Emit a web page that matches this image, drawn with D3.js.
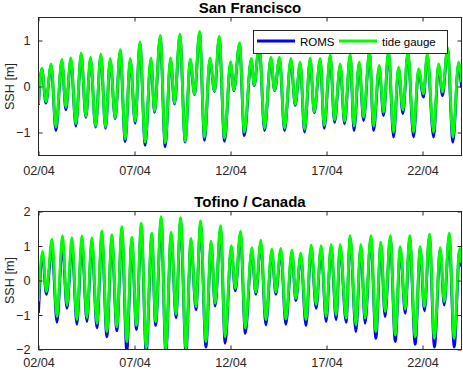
<!DOCTYPE html>
<html lang="en">
<head>
<meta charset="UTF-8">
<title>SSH: ROMS vs tide gauge</title>
<style>
  body { margin: 0; background: #fff; }
  svg { display: block; font-family: "Liberation Sans", Arial, sans-serif; }
  .axis text { font-size: 12.7px; fill: #262626; }
  .axis line { stroke: #262626; }
  .axis .domain { display: none; }
  .frame { fill: none; stroke: #262626; stroke-width: 1; }
  .title { font-size: 15px; font-weight: bold; fill: #000; }
  .ylab { font-size: 12.7px; fill: #262626; }
  .roms { fill: none; stroke: #0000ff; stroke-width: 2.8; }
  .gauge { fill: none; stroke: #00ff00; stroke-width: 2.8; }
  .legend text { font-size: 11.5px; fill: #000; }
</style>
</head>
<body>
<script src="https://cdn.jsdelivr.net/npm/d3@7"></script>
<script>

var width = 463, height = 370;
var left = 38.5, right = 461.5;

// days since 02/04 00:00
var lastDay = 22.03;
var tickDays = [0, 5, 10, 15, 20];
var tickLabels = ["02/04", "07/04", "12/04", "17/04", "22/04"];

// San Francisco: high/low waters
var sfTime = [0, 0.175, 0.384, 0.661, 0.905, 1.217, 1.425, 1.686, 1.946, 2.224,
  2.467, 2.710, 2.970, 3.248, 3.491, 3.734, 3.995, 4.255, 4.516, 4.776,
  5.036, 5.28, 5.557, 5.853, 6.043, 6.339, 6.599, 6.877, 7.085, 7.363,
  7.641, 7.901, 8.127, 8.387, 8.648, 8.925, 9.168, 9.411, 9.689, 10.002,
  10.175, 10.470, 10.72, 11.078, 11.234, 11.495, 11.772, 12.103, 12.293, 12.554,
  12.814, 13.144, 13.370, 13.630, 13.856, 14.151, 14.359, 14.672, 14.880, 15.193,
  15.418, 15.714, 15.939, 16.234, 16.43, 16.703, 16.929, 17.241, 17.450, 17.745,
  17.970, 18.231, 18.491, 18.752, 18.978, 19.238, 19.533, 19.793, 20.054, 20.245,
  20.575, 20.835, 21.043, 21.304, 21.582, 21.877, 22.03];
var sfGauge = [-0.38, 0.40, -0.33, 0.49, -0.88, 0.59, -0.45, 0.62, -0.81, 0.73,
  -0.65, 0.64, -0.86, 0.71, -0.88, 0.61, -0.68, 0.80, -1.14, 0.61,
  -0.76, 0.97, -1.21, 0.62, -0.54, 1.11, -1.23, 0.62, -0.36, 1.14,
  -1.19, 0.60, -0.17, 1.20, -1.10, 0.62, -0.10, 1.09, -1.12, 0.54,
  -0.08, 0.95, -0.99, 0.61, 0.03, 0.95, -0.91, 0.64, -0.08, 0.64,
  -0.91, 0.61, -0.39, 0.53, -0.93, 0.62, -0.55, 0.61, -0.85, 0.69,
  -0.73, 0.49, -0.76, 0.71, -0.86, 0.53, -0.67, 0.78, -0.86, 0.46,
  -0.56, 0.78, -0.99, 0.42, -0.51, 0.76, -0.99, 0.38, -0.16, 0.71,
  -0.99, 0.49, -0.12, 0.85, -1.10, 0.53, 0.09];
var sfRoms = [-0.40, 0.38, -0.36, 0.46, -0.96, 0.55, -0.51, 0.58, -0.86, 0.69,
  -0.67, 0.60, -0.88, 0.67, -0.91, 0.57, -0.70, 0.76, -1.20, 0.57,
  -0.80, 0.93, -1.28, 0.58, -0.56, 1.07, -1.31, 0.58, -0.38, 1.10,
  -1.21, 0.56, -0.18, 1.16, -1.17, 0.58, -0.11, 1.05, -1.19, 0.50,
  -0.09, 0.91, -1.07, 0.57, 0.02, 0.91, -0.96, 0.60, -0.09, 0.60,
  -0.96, 0.57, -0.41, 0.49, -0.99, 0.58, -0.57, 0.57, -0.91, 0.65,
  -0.78, 0.45, -0.81, 0.67, -0.96, 0.49, -0.74, 0.74, -0.96, 0.40,
  -0.63, 0.74, -1.10, 0.38, -0.59, 0.72, -1.10, 0.34, -0.23, 0.67,
  -1.10, 0.45, -0.20, 0.81, -1.21, 0.49, -0.02];

// Tofino
var tfTime = [0, 0.21, 0.41, 0.70, 0.96, 1.25, 1.48, 1.74, 2.00, 2.26,
  2.52, 2.78, 3.04, 3.30, 3.56, 3.82, 4.08, 4.34, 4.60, 4.86,
  5.10, 5.35, 5.61, 5.90, 6.10, 6.39, 6.63, 6.91, 7.16, 7.40,
  7.68, 7.94, 8.20, 8.44, 8.72, 8.99, 9.20, 9.48, 9.72, 10.04,
  10.25, 10.52, 10.77, 11.11, 11.32, 11.58, 11.84, 12.15, 12.36, 12.62,
  12.88, 13.20, 13.40, 13.66, 13.93, 14.20, 14.46, 14.72, 14.98, 15.24,
  15.50, 15.71, 16.02, 16.23, 16.53, 16.79, 17.01, 17.31, 17.57, 17.83,
  18.05, 18.32, 18.58, 18.84, 19.10, 19.33, 19.62, 19.88, 20.10, 20.36,
  20.62, 20.92, 21.13, 21.39, 21.65, 21.93, 22.03];
var tfGauge = [-0.61, 0.84, -0.32, 1.20, -1.05, 1.30, -0.71, 1.24, -1.14, 1.30,
  -1.08, 1.24, -1.24, 1.43, -1.48, 1.32, -1.34, 1.56, -1.77, 1.25,
  -1.30, 1.66, -1.95, 1.37, -1.19, 1.85, -2.00, 1.40, -0.98, 1.82,
  -1.98, 1.22, -0.76, 1.72, -1.77, 1.14, -0.66, 1.59, -1.63, 1.01,
  -0.23, 1.42, -1.38, 0.95, -0.34, 1.17, -1.14, 0.91, -0.34, 0.93,
  -1.12, 0.88, -0.52, 0.79, -1.14, 1.03, -0.70, 1.01, -1.05, 1.05,
  -1.00, 1.05, -1.09, 1.30, -1.29, 1.05, -1.09, 1.30, -1.48, 1.11,
  -0.90, 1.30, -1.58, 0.98, -0.83, 1.30, -1.63, 0.98, -0.76, 1.34,
  -1.68, 0.95, -0.61, 1.37, -1.68, 0.93, 0.50];
var tfRoms = [-0.95, 0.70, -0.40, 0.95, -1.21, 1.05, -0.81, 1.02, -1.27, 1.10,
  -1.19, 1.08, -1.37, 1.28, -1.63, 1.18, -1.46, 1.42, -2.05, 1.12,
  -1.42, 1.54, -2.10, 1.25, -1.30, 1.74, -2.12, 1.30, -1.08, 1.72,
  -2.12, 1.12, -0.85, 1.62, -1.93, 1.05, -0.74, 1.50, -1.82, 0.92,
  -0.30, 1.33, -1.53, 0.86, -0.40, 1.08, -1.29, 0.82, -0.40, 0.85,
  -1.27, 0.80, -0.58, 0.71, -1.31, 0.95, -0.81, 0.93, -1.19, 0.97,
  -1.14, 0.97, -1.21, 1.22, -1.48, 0.97, -1.24, 1.22, -1.68, 1.03,
  -1.05, 1.22, -1.77, 0.90, -0.95, 1.22, -1.85, 0.90, -0.88, 1.26,
  -1.93, 0.87, -0.71, 1.29, -1.93, 0.85, 0.40];

var svg = d3.select("body").append("svg")
    .attr("width", width)
    .attr("height", height);

var x = d3.scaleLinear().domain([0, lastDay]).range([left, right]);

function panel(id, title, top, bottom, yDomain, yTicks, time, gauge, roms, labelPad) {
  var y = d3.scaleLinear().domain(yDomain).range([bottom, top]);
  var g = svg.append("g");

  g.append("clipPath").attr("id", id)
    .append("rect")
      .attr("x", left).attr("y", top)
      .attr("width", right - left).attr("height", bottom - top);

  var line = d3.line()
      .x(function(d, i){ return x(time[i]); })
      .y(function(d){ return y(d); })
      .curve(d3.curveMonotoneX);

  var lines = g.append("g").attr("clip-path", "url(#" + id + ")");
  lines.append("path").datum(roms).attr("class", "roms").attr("d", line);
  lines.append("path").datum(gauge).attr("class", "gauge").attr("d", line);

  // ticks point inwards on all four sides
  g.append("g").attr("class", "axis")
      .attr("transform", "translate(0," + bottom + ")")
      .call(d3.axisBottom(x).tickValues(tickDays)
        .tickFormat(function(d, i){ return tickLabels[i]; })
        .tickSizeInner(-4).tickSizeOuter(0).tickPadding(labelPad));
  g.append("g").attr("class", "axis")
      .attr("transform", "translate(0," + top + ")")
      .call(d3.axisTop(x).tickValues(tickDays).tickFormat("")
        .tickSizeInner(-4).tickSizeOuter(0));
  g.append("g").attr("class", "axis")
      .attr("transform", "translate(" + left + ",0)")
      .call(d3.axisLeft(y).tickValues(yTicks).tickFormat(d3.format("d"))
        .tickSizeInner(-4).tickSizeOuter(0).tickPadding(8));
  g.append("g").attr("class", "axis")
      .attr("transform", "translate(" + right + ",0)")
      .call(d3.axisRight(y).tickValues(yTicks).tickFormat("")
        .tickSizeInner(-4).tickSizeOuter(0));

  g.append("rect").attr("class", "frame")
      .attr("x", left).attr("y", top)
      .attr("width", right - left).attr("height", bottom - top);

  g.append("text").attr("class", "title")
      .attr("x", (left + right) / 2).attr("y", top - 5)
      .attr("text-anchor", "middle")
      .text(title);

  g.append("text").attr("class", "ylab")
      .attr("transform", "translate(14," + ((top + bottom) / 2) + ") rotate(-90)")
      .attr("text-anchor", "middle")
      .text("SSH [m]");

  return g;
}

var g1 = panel("clipSF", "San Francisco", 17.5, 155.5, [-1.5, 1.5], [-1, 0, 1], sfTime, sfGauge, sfRoms, 10);
panel("clipTF", "Tofino / Canada", 211.5, 349.5, [-2, 2], [-2, -1, 0, 1, 2], tfTime, tfGauge, tfRoms, 8);

// legend
var legend = g1.append("g").attr("class", "legend");
legend.append("rect")
    .attr("x", 253.5).attr("y", 30.5).attr("width", 194).attr("height", 23)
    .attr("fill", "#fff").attr("stroke", "#262626").attr("stroke-width", 1);
var items = [{name: "ROMS", cls: "roms", x: 257}, {name: "tide gauge", cls: "gauge", x: 339}];
items.forEach(function(d){
  legend.append("line").attr("class", d.cls)
      .attr("x1", d.x).attr("x2", d.x + 38).attr("y1", 41).attr("y2", 41);
  legend.append("text").attr("x", d.x + 43).attr("y", 45.5).text(d.name);
});

</script>
</body>
</html>
